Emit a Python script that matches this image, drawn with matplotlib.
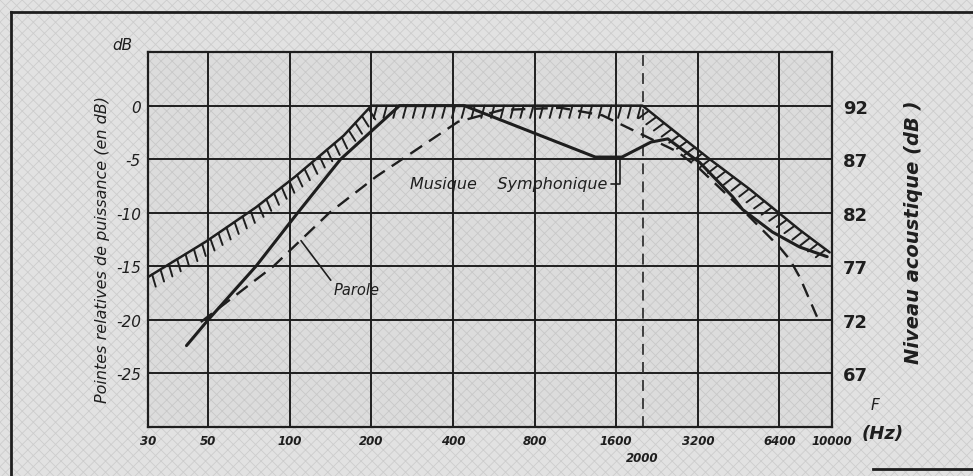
import matplotlib
matplotlib.use('Agg')
import matplotlib.pyplot as plt
import matplotlib.patheffects as pe
from matplotlib.lines import Line2D
from matplotlib.ticker import NullLocator

# frequency axis (Hz)
x_ticks = [30, 50, 100, 200, 400, 800, 1600, 3200, 6400, 10000]
x_tick_labels = ['30', '50', '100', '200', '400', '800', '1600', '3200', '6400', '10000']
marker_freq = 2000

# relative peak power (dB) and acoustic level (dB)
y_ticks = [0, -5, -10, -15, -20, -25]
y_tick_labels = ['0', '-5', '-10', '-15', '-20', '-25']
level_ticks = [92, 87, 82, 77, 72, 67]

# hatched envelope
freq_hatch = [30, 49, 75, 105, 158, 200, 2000, 2480, 3540, 4970, 7600, 9800]
db_hatch = [-16.0, -12.7, -9.5, -6.6, -2.8, 0, 0, -1.9, -5.0, -7.8, -11.6, -13.7]

# Musique symphonique (solid)
freq_music = [41.6, 50, 75, 107, 154, 254, 440, 1340, 1680, 2150, 2480, 3250, 4300, 4680, 6030, 7600, 9600]
db_music = [-22.4, -20, -15, -10, -5, 0, 0, -4.8, -4.8, -3.4, -3.1, -5.3, -8.5, -9.7, -11.8, -13.2, -14.1]

# Parole (dashed)
freq_speech = [47, 87, 140, 209, 418, 606, 1000, 1420, 2030, 2690, 3250, 4500, 6400, 7000, 7600, 8800]
db_speech = [-20.2, -15, -10, -6.6, -1.5, -0.4, -0.2, -0.9, -2.8, -4.3, -5.9, -9.3, -13.2, -14.4, -16.0, -19.7]

ink = '#1e1e1e'
plt.rcParams['hatch.linewidth'] = 0.6

fig = plt.figure(figsize=(9.73, 4.77), dpi=100)
fig.patch.set_facecolor('#e2e2e2')
fig.patch.set_edgecolor('#cdcdcd')
fig.patch.set_linewidth(0)
fig.patch.set_hatch('xxx')
ax = fig.add_axes([0.1521, 0.1027, 0.703, 0.786])
ax.patch.set_facecolor('#dcdcdc')
ax.patch.set_edgecolor('#c8c8c8')
ax.patch.set_hatch('xxx')

ax.set_xscale('log')
ax.set_xlim(30, 10000)
ax.set_ylim(-30, 5)
ax.set_xticks(x_ticks)
ax.set_xticklabels(x_tick_labels, fontsize=8.5, style='italic', weight='bold')
ax.xaxis.set_minor_locator(NullLocator())
ax.set_xticks([marker_freq], minor=True)
ax.set_xticklabels([str(marker_freq)], minor=True, fontsize=8.5, style='italic', weight='bold')
ax.tick_params(axis='x', which='minor', length=0, pad=17, colors=ink)
ax.tick_params(axis='x', which='major', length=0, pad=5, colors=ink)
ax.set_yticks(y_ticks)
ax.set_yticklabels(y_tick_labels, fontsize=11, style='italic')
ax.tick_params(axis='y', length=0, pad=5, colors=ink)

ax.grid(True, which='major', color=ink, lw=1.4)
for s in ax.spines.values():
    s.set_color(ink)
    s.set_linewidth(1.6)
ax.axvline(marker_freq, color='#333333', lw=1.3, ls=(0, (6, 4)))

# curves
ax.plot(freq_hatch, db_hatch, color=ink, lw=1.8, solid_capstyle='round',
        path_effects=[pe.withTickedStroke(angle=-105, length=1.3, spacing=7, linewidth=1.4)])
ax.plot(freq_music, db_music, color=ink, lw=2.2, solid_capstyle='round')
ax.plot(freq_speech, db_speech, color=ink, lw=1.7, ls=(0, (6, 3.5)))

ax.annotate('Parole', xy=(110, -12.6), xytext=(145, -17.2), fontsize=10.5, style='italic',
            ha='left', va='center', color=ink,
            arrowprops=dict(arrowstyle='-', color=ink, lw=1.2, shrinkA=0, shrinkB=0,
                            relpos=(0, 0.9)))
ax.annotate('Musique    Symphonique', xy=(1650, -4.85), xytext=(1480, -7.3), fontsize=11.5,
            style='italic', ha='right', va='center', color=ink,
            arrowprops=dict(arrowstyle='-', color=ink, lw=1.2, shrinkA=1, shrinkB=0,
                            relpos=(1, 0.5), connectionstyle='angle,angleA=0,angleB=90,rad=0'))

ax.set_ylabel('Pointes relatives de puissance (en dB)', fontsize=11.5, style='italic', color=ink)
ax.yaxis.set_label_coords(-0.055, 0.475)
ax.text(-0.037, 1.0, 'dB', transform=ax.transAxes, fontsize=11, style='italic',
        ha='center', va='bottom', color=ink)

ax2 = ax.twinx()
ax2.set_ylim(62, 97)
ax2.set_yticks(level_ticks)
ax2.set_yticklabels([str(v) for v in level_ticks], fontsize=13, weight='bold')
ax2.tick_params(axis='y', length=0, pad=8, colors=ink)
for s in ax2.spines.values():
    s.set_visible(False)
ax2.set_ylabel('Niveau acoustique (dB )', fontsize=14, style='italic', weight='bold',
               rotation=90, color=ink)
ax2.yaxis.set_label_coords(1.105, 0.523)

fig.text(875 / 973, 1 - 405 / 477, 'F', fontsize=11, style='italic', ha='center', va='center', color=ink)
fig.text(862 / 973, 1 - 434 / 477, '(Hz)', fontsize=13, style='italic', weight='bold',
         ha='left', va='center', color=ink)

# scan frame
fig.add_artist(Line2D([0.011, 0.011], [0.0, 0.973], transform=fig.transFigure, color=ink, lw=2))
fig.add_artist(Line2D([0.011, 1.0], [0.973, 0.973], transform=fig.transFigure, color=ink, lw=2))
fig.add_artist(Line2D([0.897, 1.0], [0.014, 0.014], transform=fig.transFigure, color=ink, lw=2))

fig.savefig('out.png', dpi=100, facecolor=fig.get_facecolor())
